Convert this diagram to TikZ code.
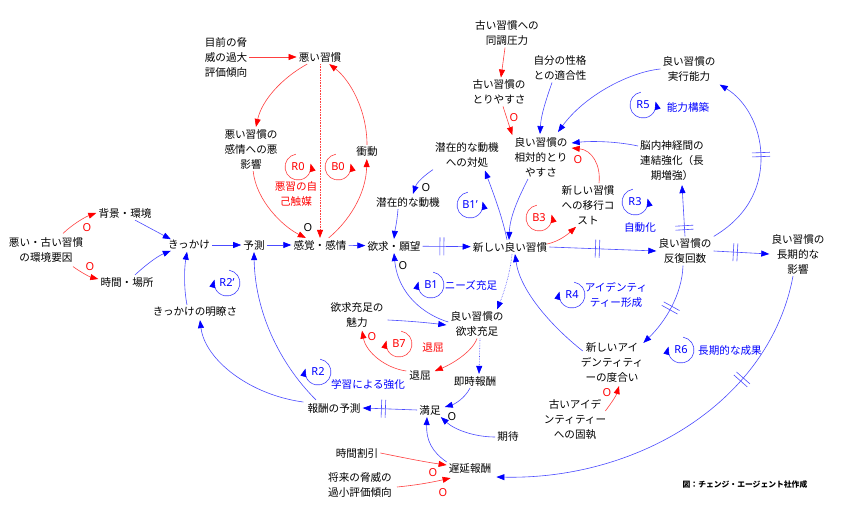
\documentclass[tikz,border=0pt]{standalone}
\usepackage{fontspec}
\setmainfont{Noto Sans CJK JP}
\newfontfamily\latinf{Noto Sans}
\usetikzlibrary{arrows.meta,calc,decorations.markings}
\newcommand{\jfont}{\fontsize{10.6}{15}\selectfont}
\newcommand{\lfont}{\latinf\fontsize{11}{13}\selectfont}
\newcommand{\loopR}[4]{%
  \node[lp,text=#4] (#1) at (#2) {#3};
  \draw[draw=#4!75,line width=0.6pt,-{Triangle[length=8pt,width=6pt,color=#4]}] ([shift={(100:13pt)}]#1.center) arc[start angle=100,end angle=375,radius=13pt];
}
\newcommand{\loopL}[4]{%
  \node[lp,text=#4] (#1) at (#2) {#3};
  \draw[draw=#4!75,line width=0.6pt,-{Triangle[length=8pt,width=6pt,color=#4]}] ([shift={(80:13pt)}]#1.center) arc[start angle=80,end angle=-195,radius=13pt];
}
\begin{document}
\begin{tikzpicture}[x=1pt,y=-1pt,
  n/.style={font=\jfont, align=center, inner sep=2pt, text=black},
  lp/.style={font=\lfont, inner sep=0pt},
  lbl/.style={font=\jfont, align=center, inner sep=0pt},
  pol/.style={font=\latinf\fontsize{11}{13}\selectfont, inner sep=0pt},
  barr/.style={draw=blue!70, line width=0.6pt, -{Triangle[length=8pt,width=6pt,color=blue]}},
  rarr/.style={draw=red!75, line width=0.6pt, -{Triangle[length=8pt,width=6pt,color=red]}},
  dmark/.style={postaction={decorate,decoration={markings,mark=at position #1 with {\draw[-,solid,blue!70,line width=0.6pt] (-2pt,-9pt)--(-2pt,9pt) (2pt,-9pt)--(2pt,9pt);}}}}
]
\fill[white] (0,0) rectangle (850,510);
\useasboundingbox (0,0) rectangle (850,510);

% nodes
\node[n] (threat) at (226,57) {目前の脅\\威の過大\\評価傾向};
\node[n] (bad) at (320,57) {悪い習慣};
\node[n] (badfeel) at (251,149) {悪い習慣の\\感情への悪\\影響};
\node[n] (impulse) at (367,152) {衝動};
\node[n] (feel) at (320,245) {感覚・感情};
\node[n] (pred) at (254,245) {予測};
\node[n] (cue) at (189,245) {きっかけ};
\node[n] (bg) at (125,213) {背景・環境};
\node[n] (time) at (127,282) {時間・場所};
\node[n] (env) at (46,250) {悪い・古い習慣\\の環境要因};
\node[n] (clar) at (195,312) {きっかけの明瞭さ};
\node[n] (desire) at (394,246) {欲求・願望};
\node[n] (motive) at (408,202) {潜在的な動機};
\node[n] (newgood) at (510,247) {新しい良い習慣};
\node[n] (goodsat) at (477,324) {良い習慣の\\欲求充足};
\node[n] (attract) at (357,315) {欲求充足の\\魅力};
\node[n] (bored) at (420,376) {退屈};
\node[n] (immed) at (475,381) {即時報酬};
\node[n] (satis) at (430,410) {満足};
\node[n] (rewpred) at (334,408) {報酬の予測};
\node[n] (expect) at (508,437) {期待};
\node[n] (discount) at (357,453) {時間割引};
\node[n] (delayed) at (470,469) {遅延報酬};
\node[n] (future) at (360,485) {将来の脅威の\\過小評価傾向};
\node[n] (peer) at (507,33) {古い習慣への\\同調圧力};
\node[n] (oldease) at (499,92) {古い習慣の\\とりやすさ};
\node[n] (fit) at (560,68) {自分の性格\\との適合性};
\node[n] (release) at (541,157) {良い習慣の\\相対的とり\\やすさ};
\node[n] (cope) at (467,155) {潜在的な動機\\への対処};
\node[n] (ability) at (689,69) {良い習慣の\\実行能力};
\node[n] (neural) at (672,161) {脳内神経間の\\連結強化（長\\期増強）};
\node[n] (cost) at (588,205) {新しい習慣\\への移行コ\\スト};
\node[n] (reps) at (685,251) {良い習慣の\\反復回数};
\node[n] (long) at (798,254) {良い習慣の\\長期的な\\影響};
\node[n] (ident) at (612,363) {新しいアイ\\デンティティ\\ーの度合い};
\node[n] (oldid) at (575,419) {古いアイデ\\ンティティー\\への固執};
\node[font=\fontsize{7.8}{9}\selectfont\bfseries, inner sep=0pt] (credit) at (745,485) {図：チェンジ・エージェント社作成};

% loops
\loopR{lR0}{298,167}{R0}{red}
\loopR{lB0}{338,167}{B0}{red}
\loopR{lB1p}{470,205}{B1’}{blue}
\loopL{lB1}{431,285}{B1}{blue}
\loopR{lB3}{539,218}{B3}{red}
\loopL{lR2p}{227,283}{R2’}{blue}
\loopL{lR2}{318,372}{R2}{blue}
\loopR{lR3}{635,202}{R3}{blue}
\loopL{lR4}{572,295}{R4}{blue}
\loopR{lR5}{643,105}{R5}{blue}
\loopL{lR6}{681,350}{R6}{blue}
\loopL{lB7}{399,344}{B7}{red}

% loop names
\node[lbl,text=red] (nR0) at (296,194) {悪習の自\\己触媒};
\node[lbl,text=blue] (nB1) at (471,285) {ニーズ充足};
\node[lbl,text=red] (nB7) at (433,348) {退屈};
\node[lbl,text=blue] (nR2) at (368,384) {学習による強化};
\node[lbl,text=blue] (nR3) at (640,227) {自動化};
\node[lbl,text=blue] (nR4) at (616,295) {アイデンティ\\ティー形成};
\node[lbl,text=blue] (nR5) at (688,107) {能力構築};
\node[lbl,text=blue] (nR6) at (730,350) {長期的な成果};

% polarity marks
\node[pol] (o1) at (308,228) {O};
\node[pol] (o2) at (426,188) {O};
\node[pol] (o3) at (403,266) {O};
\node[pol] (o4) at (452,417) {O};
\node[pol,text=red] (o5) at (514,118) {O};
\node[pol,text=red] (o6) at (578,160) {O};
\node[pol,text=red] (o7) at (87,228) {O};
\node[pol,text=red] (o8) at (90,267) {O};
\node[pol,text=red] (o9) at (372,337) {O};
\node[pol,text=red] (o10) at (433,473) {O};
\node[pol,text=red] (o11) at (443,493) {O};
\node[pol,text=red] (o12) at (607,393) {O};

% red links
\draw[rarr] (threat) -- (bad);
\draw[rarr] (bad) .. controls (282,78) and (262,100) .. (badfeel);
\draw[rarr] (badfeel) .. controls (256,200) and (282,226) .. (feel);
\draw[rarr,densely dotted] (bad) -- (feel);
\draw[rarr] (feel) .. controls (348,222) and (366,195) .. (impulse);
\draw[rarr] (impulse) .. controls (367,110) and (350,80) .. (bad);
\draw[rarr] (peer) -- (oldease);
\draw[rarr] ($(oldease.south)+(4,0)$) -- (release.north west);
\draw[rarr] ($(newgood.east)+(-2,-3)$) .. controls (560,241) and (568,234) .. ($(cost.south)+(-12,0)$);
\draw[rarr] ($(cost.north)+(11,0)$) .. controls (601,165) and (592,150) .. ($(release.east)+(2,-9)$);
\draw[rarr] ($(oldid.east)+(-3,-8)$) .. controls (612,402) and (616,396) .. ($(ident.south)+(7,1)$);
\draw[rarr] (goodsat.south) .. controls (472,352) and (452,364) .. ($(bored.north east)+(2,2)$);
\draw[rarr] ($(bored.west)+(-1,-5)$) .. controls (385,368) and (366,352) .. ($(attract.south)+(5,1)$);
\draw[rarr] ($(env.north)+(17,-2)$) .. controls (73,224) and (85,217) .. (bg.west);
\draw[rarr] ($(env.south)+(27,2)$) .. controls (82,273) and (90,277) .. ($(time.west)+(0,-3)$);
\draw[rarr] (discount.east) .. controls (405,458) and (425,462) .. ($(delayed.west)+(0,-4)$);
\draw[rarr] ($(future.east)+(3,2)$) .. controls (418,485) and (433,482) .. ($(delayed.south west)+(4,2)$);

% blue links
\draw[barr] ($(bg.south)+(10,0)$) -- ($(cue.north west)+(5,1)$);
\draw[barr] ($(time.north)+(8,0)$) .. controls (148,263) and (158,256) .. ($(cue.south west)+(5,-1)$);
\draw[barr] (cue) -- (pred);
\draw[barr] (pred) -- (feel);
\draw[barr] (feel) -- (desire);
\draw[barr,dmark=0.4] (desire) -- (newgood);
\draw[barr,dmark=0.45] (newgood.east) -- (reps.west);
\draw[barr,dmark=0.39] (reps.east) -- (long.west);
\draw[barr,dmark=0.17] (reps.north) -- ($(neural.south)+(10,2)$);
\draw[barr] ($(neural.west)+(0,-15)$) .. controls (615,141) and (590,141) .. ($(release.east)+(2,-14)$);
\draw[barr,dmark=0.54] (reps.north east) .. controls (745,218) and (762,190) .. (761,155) .. controls (760,125) and (745,100) .. ($(ability.south east)+(2,1)$);
\draw[barr] (ability.west) .. controls (630,72) and (585,95) .. ($(release.north)+(17,-3)$);
\draw[barr] ($(fit.south)+(-8,0)$) .. controls (546,100) and (541,115) .. ($(release.north)+(-1,-1)$);
\draw[barr] ($(release.south)+(-13,0)$) .. controls (520,195) and (510,215) .. ($(newgood.north)+(-1,0)$);
\draw[barr] ($(newgood.north)+(-3,0)$) .. controls (502,215) and (492,190) .. ($(cope.south)+(18,1)$);
\draw[barr] (cope.south west) .. controls (425,175) and (417,182) .. ($(motive.north)+(5,-1)$);
\draw[barr] ($(motive.south)+(-10,0)$) .. controls (397,222) and (395,230) .. (desire.north);
\draw[barr] ($(goodsat.west)+(0,-2)$) .. controls (425,315) and (398,295) .. (desire.south);
\draw[barr,densely dotted] ($(newgood.south)+(2,0)$) .. controls (510,275) and (503,295) .. ($(goodsat.north)+(20,0)$);
\draw[barr] ($(attract.east)+(2,5)$) .. controls (410,321) and (430,323) .. ($(goodsat.west)+(-2,1)$);
\draw[barr,densely dotted] ($(goodsat.south)+(3,0)$) -- ($(immed.north)+(4,0)$);
\draw[barr] ($(immed.south)+(-5,0)$) .. controls (465,398) and (455,404) .. ($(satis.east)+(2,-3)$);
\draw[barr] (expect.west) .. controls (475,437) and (455,430) .. ($(satis.south east)+(-2,0)$);
\draw[barr] (delayed.north west) .. controls (432,452) and (426,440) .. ($(satis.south)+(-3,0)$);
\draw[barr,dmark=0.62] (satis.west) -- (rewpred.east);
\draw[barr] ($(rewpred.north)+(-18,-1)$) .. controls (278,362) and (255,310) .. (pred.south);
\draw[barr] ($(rewpred.west)+(-2,-6)$) .. controls (250,395) and (205,360) .. ($(clar.south)+(5,1)$);
\draw[barr] ($(clar.north)+(-8,0)$) .. controls (184,290) and (184,270) .. ($(cue.south)+(-2,0)$);
\draw[barr,dmark=0.5] ($(reps.south)+(-2,0)$) .. controls (682,295) and (665,322) .. ($(ident.north east)+(-2,2)$);
\draw[barr] ($(ident.north west)+(4,10)$) .. controls (550,325) and (520,290) .. ($(newgood.south)+(5,0)$);
\draw[barr,dmark=0.3] ($(long.south)+(-5,0)$) .. controls (770,400) and (640,480) .. ($(delayed.east)+(3,8)$);
\end{tikzpicture}
\end{document}
